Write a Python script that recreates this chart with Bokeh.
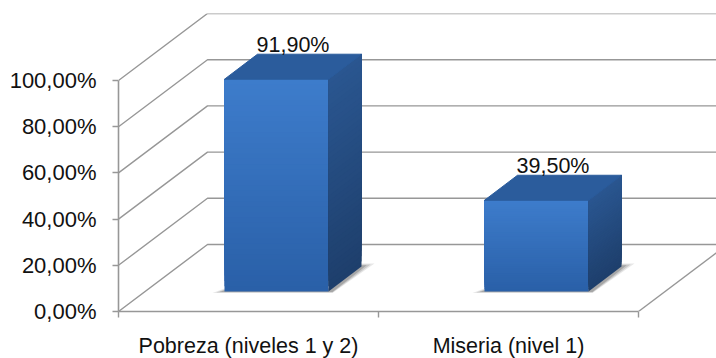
from bokeh.plotting import figure
from bokeh.models import LinearAxis, FixedTicker, Range1d, ColumnDataSource
from bokeh.embed import file_html
from bokeh.resources import INLINE
from bokeh.core.properties import value as val

categories = ["Pobreza (niveles 1 y 2)", "Miseria (nivel 1)"]
values = [91.9, 39.5]
value_labels = ["91,90%", "39,50%"]
y_ticks = [0, 20, 40, 60, 80, 100]
y_tick_labels = ["0,00%", "20,00%", "40,00%", "60,00%", "80,00%", "100,00%"]
x_ticks = [0, 1, 2]
cat_pos = [0.5, 1.5]

GRID = "#979797"
FONT = "Liberation Sans"
FS = "21.5px"
PX_X, PX_Y = 260.0, 2.31
WALL_DX, WALL_DY = 89 / PX_X, 67 / PX_Y
BAR_OFF_DX, BAR_OFF_DY = 28 / PX_X, 20 / PX_Y
BAR_DX, BAR_DY = 33 / PX_X, 25 / PX_Y
HALF_W = 52 / PX_X


def mix(a, b, t):
    ca = [int(a[i:i + 2], 16) for i in (1, 3, 5)]
    cb = [int(b[i:i + 2], 16) for i in (1, 3, 5)]
    return "#%02x%02x%02x" % tuple(round(x + (y - x) * t) for x, y in zip(ca, cb))


p = figure(width=716, height=358, frame_width=598, frame_height=298,
           output_backend="svg", toolbar_location=None,
           x_range=Range1d(0, 598 / PX_X), y_range=Range1d(0, 298 / PX_Y),
           x_axis_type=None, y_axis_type=None,
           min_border_left=118, min_border_right=0, min_border_top=13, min_border_bottom=47)
p.grid.visible = False
p.outline_line_color = None
p.background_fill_color = "white"

# walls and gridlines
xe = 598 / PX_X
gx, gy = [], []
for t in y_ticks:
    gx.append([0, WALL_DX, xe])
    gy.append([t, t + WALL_DY, t + WALL_DY])
p.multi_line(gx, gy, line_color=GRID, line_width=1.4)
p.line([x_ticks[-1], x_ticks[-1] + WALL_DX], [0, WALL_DY], line_color=GRID, line_width=1.4)

# bars
N = 40
for c, v in zip(cat_pos, values):
    x0 = c - HALF_W + BAR_OFF_DX
    x1 = c + HALF_W + BAR_OFF_DX
    y0 = BAR_OFF_DY
    y1 = BAR_OFF_DY + v
    # soft shadow
    for k, a in ((1.0, 0.14), (0.7, 0.2), (0.4, 0.3)):
        p.patch([x0 - k * 12 / PX_X, x1 + 4 / PX_X, x1 + BAR_DX + k * 13 / PX_X, x1 + BAR_DX - 2 / PX_X, x1, x0],
                [y0 - k * 1.5 / PX_Y, y0 - k * 1.5 / PX_Y, y0 + BAR_DY + k * 3 / PX_Y, y0 + BAR_DY + k * 3 / PX_Y,
                 y0 + 3 / PX_Y, y0 + k * 3 / PX_Y],
                fill_color="#555555", fill_alpha=a, line_color=None)
    # front: each strip runs up to the bar top, the next one paints over it
    s = [v * i / N for i in range(N)]
    fronts = [mix("#2a60a8", "#3d7ccb", i / (N - 1)) for i in range(N)]
    sides = [mix("#1e3f6c", "#2a5690", i / (N - 1)) for i in range(N)]
    p.quad(left=[x0] * N, right=[x1] * N,
           bottom=[y0 + h for h in s], top=[y1] * N,
           fill_color=fronts, line_color=None)
    # side
    p.patches([[x1, x1 + BAR_DX, x1 + BAR_DX, x1] for h in s],
              [[y0 + h, y0 + h + BAR_DY, y1 + BAR_DY, y1] for h in s],
              fill_color=sides, line_color=None)
    # top
    p.patch([x0, x1, x1 + BAR_DX, x0 + BAR_DX], [y1, y1, y1 + BAR_DY, y1 + BAR_DY],
            fill_color="#2b5c9c", line_color="#2b5c9c", line_width=1)

# value labels
src = ColumnDataSource(dict(
    x=[c + BAR_OFF_DX + BAR_DX / 2 for c in cat_pos],
    y=[v + BAR_OFF_DY + BAR_DY + 9.5 / PX_Y for v in values],
    t=value_labels))
p.text("x", "y", text="t", source=src, text_align="center", text_baseline="middle",
       text_font=val(FONT), text_font_size=FS, text_color="#111111")

# axes
yax = LinearAxis(ticker=FixedTicker(ticks=y_ticks), bounds=(0, 100),
                 major_label_overrides={t: l for t, l in zip(y_ticks, y_tick_labels)})
xax = LinearAxis(ticker=FixedTicker(ticks=cat_pos, minor_ticks=x_ticks), bounds=(0, 2),
                 major_label_overrides={t: l for t, l in zip(cat_pos, categories)},
                 major_tick_line_color=None, major_tick_in=0, major_tick_out=0,
                 minor_tick_line_color=GRID, minor_tick_line_width=1.4,
                 minor_tick_in=0, minor_tick_out=6, major_label_standoff=16)
yax.major_tick_line_color = GRID
yax.major_tick_line_width = 1.4
yax.major_tick_in = 0
yax.major_tick_out = 6
yax.minor_tick_line_color = None
yax.major_label_standoff = 16
for a in (yax, xax):
    a.axis_line_color = GRID
    a.axis_line_width = 1.6
    a.major_label_text_font = FONT
    a.major_label_text_color = "#111111"
    a.major_label_text_font_size = FS
yax.major_label_text_font_size = "22px"
p.add_layout(yax, "left")
p.add_layout(xax, "below")

open("out.html", "w").write(file_html(p, INLINE))
